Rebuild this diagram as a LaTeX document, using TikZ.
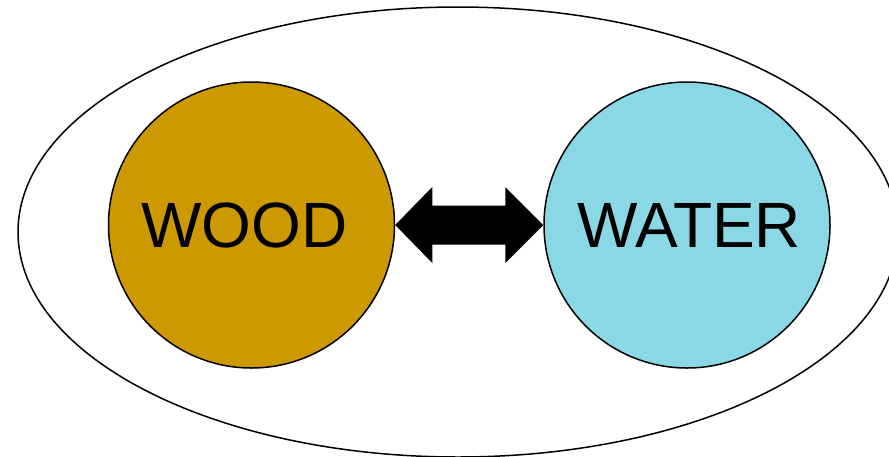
\documentclass[tikz,border=0pt]{standalone}
\usepackage{fontspec}
\setmainfont{Liberation Sans}
\usetikzlibrary{calc}
\definecolor{woodfill}{RGB}{204,153,0}
\definecolor{waterfill}{RGB}{138,216,230}
\tikzset{
  element/.style={circle, draw=black, line width=1.5pt, minimum size=286pt, inner sep=0pt,
    font=\fontsize{64}{64}\selectfont},
}
\begin{document}
\begin{tikzpicture}[x=1pt,y=-1pt]
  \useasboundingbox (0,0) rectangle (889,456);
  \fill[white] (0,0) rectangle (889,456);
  % outer enclosing ellipse
  \draw[line width=1.5pt] (458,232) ellipse [x radius=440, y radius=225];
  % the two elements
  \node[element, fill=woodfill] (wood) at (251.5,225) {\hspace*{-14pt}WOOD};
  \node[element, fill=waterfill] (water) at (687,225) {WATER\hspace*{-4pt}};
  % two-way block arrow between them
  \fill[black] (wood.east)
    -- ($(wood.east)+(37pt,38pt)$)
    -- ($(wood.east)+(37pt,19.5pt)$)
    -- ($(water.west)+(-38pt,19.5pt)$)
    -- ($(water.west)+(-38pt,38pt)$)
    -- (water.west)
    -- ($(water.west)+(-38pt,-38pt)$)
    -- ($(water.west)+(-38pt,-19.5pt)$)
    -- ($(wood.east)+(37pt,-19.5pt)$)
    -- ($(wood.east)+(37pt,-38pt)$)
    -- cycle;
\end{tikzpicture}
\end{document}
